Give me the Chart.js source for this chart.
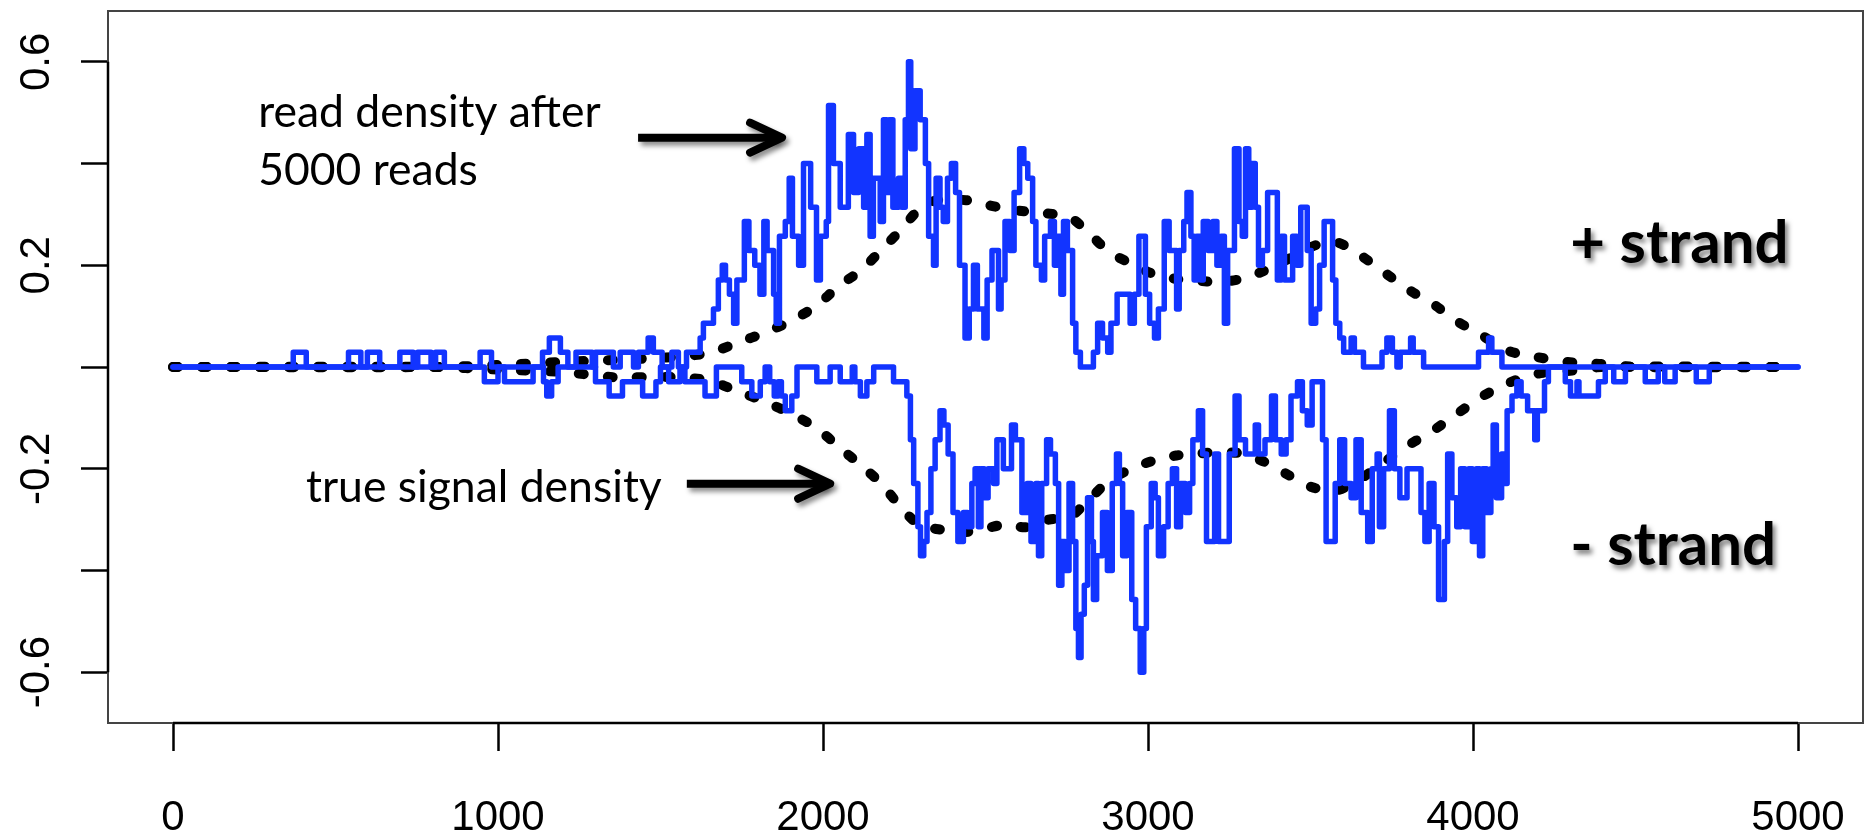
<!DOCTYPE html>
<html><head><meta charset="utf-8">
<script src="https://cdn.jsdelivr.net/npm/chart.js@4.4.1/dist/chart.umd.min.js"></script>
<style>html,body{margin:0;padding:0;background:#fff;}canvas{display:block;}</style>
</head><body>
<canvas id="c" width="1871" height="835"></canvas>
<script>
// ---- tick values ----
const xTicks = [0, 1000, 2000, 3000, 4000, 5000];
const yTicks = [-0.6, -0.4, -0.2, 0, 0.2, 0.4, 0.6];
const yTickLabels = ['-0.6', '', '-0.2', '', '0.2', '', '0.6'];

// ---- read density, + strand (step breakpoints and values) ----
const plusX = [0,370,410,540,578,598,636,698,739,753,794,808,835,945,980,1137,1158,1192,1215,1240,1290,1300,1355,1376,1417,1432,1462,1478,1505,1535,1555,1580,1622,1632,1663,1678,1690,1700,1712,1725,1735,1758,1772,1790,1806,1818,1828,1848,1856,1866,1884,1896,1906,1925,1940,1962,1980,1992,2010,2017,2032,2053,2078,2094,2110,2125,2135,2145,2155,2176,2186,2196,2205,2215,2232,2243,2253,2263,2270,2283,2299,2315,2325,2340,2348,2360,2370,2383,2395,2408,2420,2437,2450,2463,2475,2495,2505,2520,2540,2548,2560,2575,2588,2605,2618,2630,2645,2655,2672,2682,2700,2712,2722,2732,2740,2752,2768,2778,2792,2832,2845,2860,2876,2886,2905,2945,2958,2972,2992,3005,3020,3032,3050,3065,3088,3096,3110,3120,3132,3142,3150,3162,3170,3185,3200,3212,3225,3235,3245,3266,3280,3290,3300,3310,3320,3330,3340,3352,3368,3398,3410,3420,3445,3458,3470,3490,3502,3516,3528,3542,3568,3578,3590,3602,3625,3635,3663,3720,3735,3752,3766,3776,3808,3816,3848,4017,4048,4058,4089,5000];
const plusY = [0,0.029,0,0.029,0,0.029,0,0.029,0,0.029,0,0.029,0,0.029,0,0.029,0.057,0.029,0,0.029,0,0.029,0,0.029,0,0.029,0.057,0.029,0,0.029,0,0.029,0.057,0.086,0.114,0.171,0.2,0.171,0.143,0.086,0.171,0.286,0.229,0.2,0.143,0.286,0.229,0.143,0.086,0.257,0.286,0.371,0.257,0.2,0.4,0.314,0.171,0.257,0.286,0.514,0.4,0.314,0.457,0.343,0.429,0.314,0.457,0.257,0.371,0.286,0.486,0.343,0.486,0.314,0.371,0.314,0.486,0.6,0.429,0.543,0.486,0.4,0.257,0.2,0.371,0.314,0.286,0.371,0.4,0.343,0.2,0.057,0.114,0.2,0.114,0.057,0.171,0.229,0.114,0.171,0.286,0.229,0.343,0.429,0.4,0.371,0.286,0.2,0.171,0.257,0.286,0.2,0.257,0.143,0.286,0.229,0.086,0.029,0,0.029,0.086,0.057,0.029,0.086,0.143,0.086,0.143,0.257,0.143,0.086,0.057,0.114,0.286,0.229,0.114,0.229,0.286,0.343,0.257,0.171,0.257,0.171,0.286,0.229,0.286,0.2,0.257,0.086,0.229,0.429,0.286,0.257,0.429,0.314,0.4,0.314,0.2,0.229,0.343,0.171,0.257,0.171,0.257,0.2,0.314,0.229,0.086,0.114,0.2,0.286,0.171,0.086,0.057,0.029,0.057,0.029,0,0.029,0.057,0.029,0,0.029,0.057,0.029,0,0.029,0.057,0.029,0,0];

// ---- read density, - strand ----
const minusX = [0,958,1000,1020,1108,1140,1150,1165,1185,1300,1342,1383,1445,1486,1500,1525,1560,1575,1637,1672,1750,1781,1807,1822,1836,1850,1862,1872,1884,1904,1920,1981,2022,2053,2090,2098,2115,2135,2156,2217,2258,2269,2279,2292,2300,2310,2320,2332,2345,2360,2372,2385,2400,2415,2432,2445,2458,2468,2478,2486,2496,2508,2525,2535,2555,2580,2592,2612,2628,2640,2655,2663,2673,2688,2700,2715,2725,2735,2745,2757,2768,2778,2786,2794,2804,2814,2826,2832,2842,2860,2875,2890,2903,2912,2922,2935,2950,2962,2976,2987,2995,3010,3022,3032,3048,3062,3075,3088,3100,3115,3128,3138,3155,3168,3180,3205,3217,3250,3268,3280,3300,3330,3340,3360,3380,3392,3410,3425,3440,3460,3475,3490,3505,3537,3548,3576,3590,3605,3625,3640,3656,3676,3690,3705,3712,3725,3743,3758,3775,3797,3840,3852,3865,3880,3894,3912,3922,3935,3950,3962,3975,3987,3998,4010,4020,4030,4042,4055,4062,4072,4088,4100,4105,4120,4135,4148,4168,4190,4198,4220,4232,4284,4300,4320,4326,4386,4407,4433,4469,4530,4570,4590,4622,4687,4727,5000];
const minusY = [0,-0.029,0,-0.029,0,-0.029,-0.057,-0.029,0,-0.029,-0.057,-0.029,-0.057,-0.029,0,-0.029,0,-0.029,-0.057,0,-0.029,-0.057,-0.029,0,-0.029,-0.057,-0.029,-0.057,-0.086,-0.057,0,-0.029,0,-0.029,0,-0.029,-0.057,-0.029,0,-0.029,-0.057,-0.143,-0.229,-0.314,-0.371,-0.343,-0.286,-0.2,-0.143,-0.086,-0.114,-0.171,-0.286,-0.343,-0.286,-0.314,-0.229,-0.2,-0.314,-0.2,-0.257,-0.2,-0.229,-0.143,-0.2,-0.114,-0.143,-0.286,-0.229,-0.343,-0.229,-0.371,-0.229,-0.143,-0.171,-0.229,-0.429,-0.343,-0.4,-0.229,-0.343,-0.514,-0.571,-0.486,-0.429,-0.257,-0.343,-0.457,-0.371,-0.286,-0.4,-0.229,-0.171,-0.229,-0.371,-0.286,-0.457,-0.514,-0.6,-0.514,-0.314,-0.229,-0.257,-0.371,-0.314,-0.229,-0.2,-0.314,-0.229,-0.286,-0.229,-0.143,-0.086,-0.171,-0.343,-0.171,-0.343,-0.171,-0.057,-0.143,-0.171,-0.114,-0.171,-0.143,-0.057,-0.143,-0.171,-0.143,-0.057,-0.029,-0.086,-0.114,-0.029,-0.143,-0.343,-0.229,-0.143,-0.229,-0.257,-0.143,-0.286,-0.343,-0.2,-0.171,-0.314,-0.2,-0.086,-0.2,-0.257,-0.2,-0.286,-0.343,-0.229,-0.314,-0.457,-0.343,-0.171,-0.257,-0.314,-0.2,-0.314,-0.2,-0.343,-0.2,-0.371,-0.2,-0.286,-0.2,-0.114,-0.257,-0.171,-0.229,-0.086,-0.057,-0.029,-0.057,-0.086,-0.143,-0.086,-0.029,0,-0.029,-0.057,-0.029,-0.057,-0.029,0,-0.029,0,-0.029,0,-0.029,0,-0.029,0,0];

// ---- true signal density ----
const truePlusX = [0,800,1000,1200,1400,1550,1650,1739,1822,1899,1979,2050,2117,2179,2240,2296,2351,2440,2496,2557,2620,2687,2758,2820,2881,2949,3016,3087,3149,3216,3293,3360,3440,3518,3582,3653,3727,3807,3877,3951,4028,4108,4201,4305,4397,4502,5000];
const truePlusY = [0,0,0.004,0.01,0.015,0.02,0.028,0.048,0.068,0.09,0.12,0.16,0.19,0.23,0.27,0.31,0.328,0.328,0.32,0.312,0.306,0.302,0.295,0.262,0.226,0.203,0.183,0.173,0.17,0.167,0.174,0.19,0.215,0.24,0.245,0.22,0.186,0.15,0.124,0.09,0.062,0.032,0.019,0.009,0.006,0,0];
const trueMinusX = [0,800,1000,1200,1355,1453,1555,1650,1739,1828,1905,1980,2050,2118,2180,2240,2296,2364,2428,2497,2558,2625,2695,2758,2820,2881,2949,3018,3087,3155,3216,3287,3360,3431,3503,3577,3653,3727,3801,3877,3951,4023,4103,4201,4305,4400,5000];
const trueMinusY = [0,0,-0.005,-0.01,-0.02,-0.02,-0.02,-0.027,-0.048,-0.07,-0.093,-0.12,-0.158,-0.194,-0.23,-0.276,-0.31,-0.32,-0.325,-0.318,-0.31,-0.315,-0.3,-0.295,-0.26,-0.223,-0.2,-0.184,-0.174,-0.17,-0.168,-0.17,-0.187,-0.212,-0.236,-0.243,-0.22,-0.187,-0.154,-0.125,-0.092,-0.06,-0.033,-0.013,-0.007,0,0];

const pts = (xs, ys) => xs.map((x, i) => ({x: x, y: ys[i]}));

// ---- annotation layout (data coordinates) ----
const texts = [
  {t: 'read density after', x: 262, y: 0.471, font: '44.5px Lato', shadow: false},
  {t: '5000 reads', x: 262, y: 0.357, font: '44.5px Lato', shadow: false},
  {t: 'true signal density', x: 409, y: -0.266, font: '44.5px Lato', shadow: false},
  {t: '+ strand', x: 4299, y: 0.205, font: 'bold 60px Lato', shadow: true},
  {t: '- strand', x: 4299, y: -0.39, font: 'bold 60px Lato', shadow: true}
];
const arrows = [
  {x1: 1431, x2: 1874, y: 0.451},
  {x1: 1581, x2: 2022, y: -0.2295}
];

const blue = '#1234ff';
const AXIS_FONT = {family: '"Liberation Sans", Arial, sans-serif', size: 42};

const decor = {
  id: 'decor',
  afterDatasetsDraw(chart) {
    const {ctx, chartArea: a, scales: {x, y}} = chart;
    ctx.save();
    ctx.strokeStyle = '#444';
    ctx.lineWidth = 2;
    ctx.strokeRect(a.left, a.top, a.right - a.left, a.bottom - a.top);
    ctx.strokeStyle = '#000';
    ctx.lineWidth = 2.5;
    ctx.beginPath();
    ctx.moveTo(x.getPixelForValue(xTicks[0]), a.bottom);
    ctx.lineTo(x.getPixelForValue(xTicks[xTicks.length - 1]), a.bottom);
    ctx.moveTo(a.left, y.getPixelForValue(yTicks[0]));
    ctx.lineTo(a.left, y.getPixelForValue(yTicks[yTicks.length - 1]));
    ctx.stroke();
    ctx.shadowColor = 'rgba(0,0,0,0.45)';
    ctx.shadowOffsetX = 3; ctx.shadowOffsetY = 4; ctx.shadowBlur = 5;
    ctx.strokeStyle = '#000';
    ctx.lineWidth = 8;
    ctx.lineJoin = 'round';
    arrows.forEach(ar => {
      const x1 = x.getPixelForValue(ar.x1), x2 = x.getPixelForValue(ar.x2), py = y.getPixelForValue(ar.y);
      ctx.lineCap = 'butt';
      ctx.beginPath(); ctx.moveTo(x1, py); ctx.lineTo(x2 - 4, py); ctx.stroke();
      ctx.lineCap = 'round';
      ctx.beginPath(); ctx.moveTo(x2 - 32, py - 15); ctx.lineTo(x2, py); ctx.lineTo(x2 - 32, py + 15); ctx.stroke();
    });
    ctx.fillStyle = '#000';
    ctx.textBaseline = 'alphabetic';
    ctx.textAlign = 'left';
    texts.forEach(tx => {
      ctx.font = tx.font;
      if (tx.shadow) {
        ctx.shadowColor = 'rgba(0,0,0,0.5)'; ctx.shadowOffsetX = 3; ctx.shadowOffsetY = 4; ctx.shadowBlur = 5;
      } else {
        ctx.shadowColor = 'rgba(0,0,0,0)'; ctx.shadowOffsetX = 0; ctx.shadowOffsetY = 0; ctx.shadowBlur = 0;
      }
      ctx.fillText(tx.t, x.getPixelForValue(tx.x), y.getPixelForValue(tx.y));
    });
    ctx.restore();
  }
};

new Chart(document.getElementById('c'), {
  type: 'line',
  data: {
    datasets: [
      {data: pts(plusX, plusY), borderColor: blue, borderWidth: 5.5, stepped: 'before', pointRadius: 0, borderJoinStyle: 'round', borderCapStyle: 'round', fill: false},
      {data: pts(minusX, minusY), borderColor: blue, borderWidth: 5.5, stepped: 'before', pointRadius: 0, borderJoinStyle: 'round', borderCapStyle: 'round', fill: false},
      {data: pts(truePlusX, truePlusY), borderColor: '#000', borderWidth: 10, borderDash: [5, 24], borderCapStyle: 'round', pointRadius: 0, tension: 0.3, fill: false},
      {data: pts(trueMinusX, trueMinusY), borderColor: '#000', borderWidth: 10, borderDash: [5, 24], borderCapStyle: 'round', pointRadius: 0, tension: 0.3, fill: false}
    ]
  },
  options: {
    responsive: false,
    animation: false,
    events: [],
    layout: {padding: {top: 11, right: 8, left: 0, bottom: 0}},
    plugins: {legend: {display: false}, tooltip: {enabled: false}, title: {display: false}},
    scales: {
      x: {
        type: 'linear', min: -200, max: 5200,
        afterBuildTicks: s => { s.ticks = xTicks.map(v => ({value: v})); },
        afterFit: s => { s.height = 112; s.paddingLeft = 0; s.paddingRight = 0; s.paddingTop = 0; s.paddingBottom = 0; },
        ticks: {font: AXIS_FONT, color: '#000', padding: 42, maxRotation: 0, autoSkip: false,
                callback: v => String(v)},
        grid: {drawOnChartArea: false, drawTicks: true, tickLength: 28, tickWidth: 2.5, tickColor: '#000'},
        border: {display: false}
      },
      y: {
        type: 'linear', min: -0.7, max: 0.7,
        afterBuildTicks: s => { s.ticks = yTicks.map(v => ({value: v})); },
        afterFit: s => { s.width = 108; s.paddingTop = 0; s.paddingBottom = 0; s.paddingLeft = 0; s.paddingRight = 0; },
        ticks: {font: AXIS_FONT, color: '#000', padding: 7, minRotation: 90, maxRotation: 90, crossAlign: 'center', autoSkip: false,
                callback: (v, i) => yTickLabels[i]},
        grid: {drawOnChartArea: false, drawTicks: true, tickLength: 27, tickWidth: 2.5, tickColor: '#000'},
        border: {display: false}
      }
    }
  },
  plugins: [decor]
});
</script>
</body></html>
